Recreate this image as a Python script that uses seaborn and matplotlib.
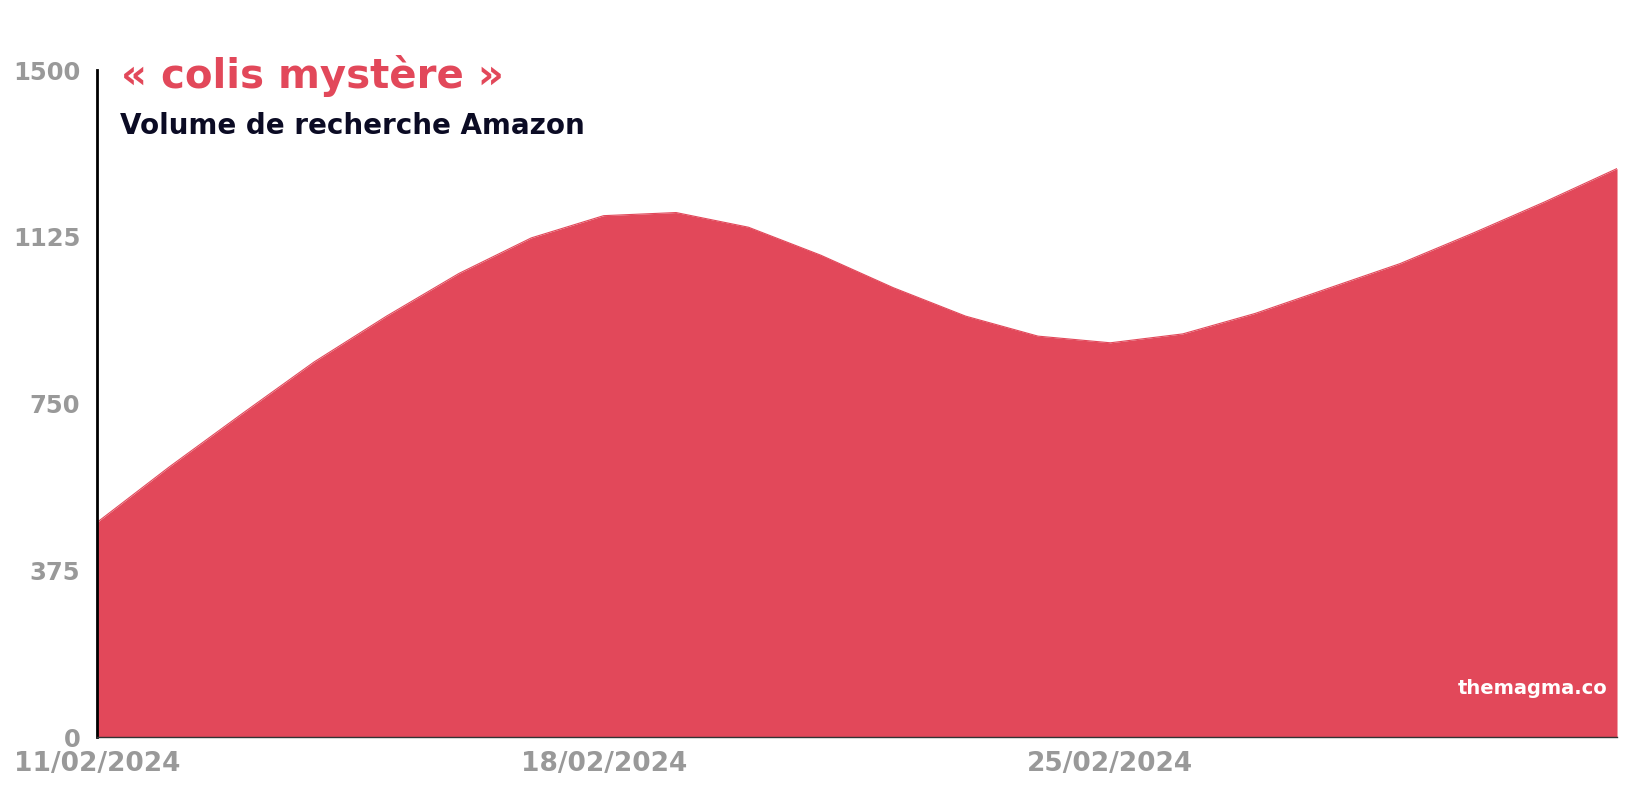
import pandas as pd
import numpy as np
import seaborn as sns
import matplotlib.pyplot as plt
import matplotlib.dates as mdates

# Daily Amazon search volume, 11/02/2024 -> 03/03/2024
dates = pd.date_range("2024-02-11", "2024-03-03", freq="D")
volume = [483, 608, 727, 844, 947, 1043, 1123, 1173, 1180, 1147, 1084,
          1011, 947, 902, 887, 907, 953, 1009, 1065, 1133, 1204, 1279]
y_ticks = [0, 375, 750, 1125, 1500]
x_ticks = ["2024-02-11", "2024-02-18", "2024-02-25"]

title = "« colis mystère »"
subtitle = "Volume de recherche Amazon"
credit = "themagma.co"

red = "#e2485a"
grey = "#999999"

sns.set_theme(style="white")
plt.rcParams["font.family"] = ["DejaVu Sans"]

df = pd.DataFrame({"date": dates, "volume": volume})

fig = plt.figure(figsize=(16.36, 7.9), dpi=100)
ax = fig.add_axes([0.0593, 0.067, 0.9291, 0.844])

sns.lineplot(data=df, x="date", y="volume", color=red, lw=0.8, ax=ax)
ax.fill_between(df["date"], 0, df["volume"], color=red, lw=0)

ax.set_xlim(dates[0], dates[-1])
ax.set_ylim(0, 1500)
ax.set_yticks(y_ticks)
ax.set_xticks(pd.to_datetime(x_ticks))
ax.xaxis.set_major_formatter(mdates.DateFormatter("%d/%m/%Y"))
ax.set_xlabel("")
ax.set_ylabel("")
ax.tick_params(axis="both", length=0, labelcolor=grey)
ax.tick_params(axis="y", pad=12, labelsize=17.5)
ax.tick_params(axis="x", pad=10, labelsize=19)
for lab in ax.get_xticklabels() + ax.get_yticklabels():
    lab.set_fontweight("bold")

sns.despine(ax=ax)
ax.spines["left"].set_color("black")
ax.spines["left"].set_linewidth(2)
ax.spines["bottom"].set_color("#333333")
ax.spines["bottom"].set_linewidth(1)

fig.text(121 / 1636, 1 - 88 / 790, title, color=red, fontsize=29,
         fontweight="bold", va="baseline")
fig.text(120 / 1636, 1 - 134 / 790, subtitle, color="#0b0b24", fontsize=20,
         fontweight="bold", va="baseline")
fig.text(1607 / 1636, 1 - 694 / 790, credit, color="white", fontsize=14,
         fontweight="bold", ha="right", va="baseline")

fig.savefig("out.png", dpi=100, facecolor="white")
